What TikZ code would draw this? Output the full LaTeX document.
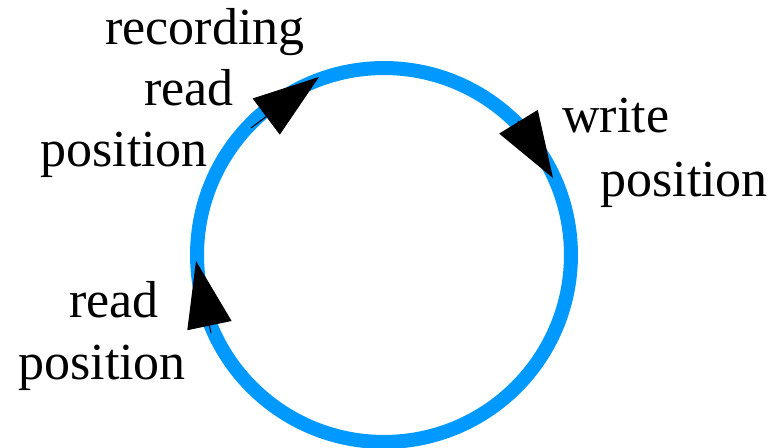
\documentclass[tikz,border=0pt]{standalone}
\usepackage{fontspec}
\setmainfont{Liberation Serif}
\usetikzlibrary{arrows.meta}
\definecolor{ringblue}{RGB}{0,153,255}

\begin{document}
\begin{tikzpicture}[x=0.02cm, y=-0.02cm,
    lbl/.style={anchor=base west, inner sep=0pt, font=\fontsize{29.6}{35}\selectfont},
    pointer/.style={-{Triangle[length=1.32cm, width=0.9cm]}, line width=0.02cm}]
    \useasboundingbox (0,0) rectangle (777,448);
    % the ring buffer
    \draw[ringblue, line width=0.28cm] (384,255) circle[radius=3.74cm];
    % position pointers
    \coordinate (rec_tail) at (251,128);
    \coordinate (rec_tip) at (319,77);
    \coordinate (write_tail) at (518,121);
    \coordinate (write_tip) at (553,178);
    \coordinate (read_tail) at (211,333);
    \coordinate (read_tip) at (196,261);
    \draw[pointer] (rec_tail) -- (rec_tip);
    \draw[pointer] (write_tail) -- (write_tip);
    \draw[pointer] (read_tail) -- (read_tip);
    % labels
    \node[lbl] (rec1) at (105,45) {recording};
    \node[lbl] (rec2) at (144,106) {read};
    \node[lbl] (rec3) at (40,167) {position};
    \node[lbl] (write1) at (562,133) {write};
    \node[lbl] (write2) at (600,197) {position};
    \node[lbl] (read1) at (69,318) {read};
    \node[lbl] (read2) at (18,380) {position};
\end{tikzpicture}
\end{document}
